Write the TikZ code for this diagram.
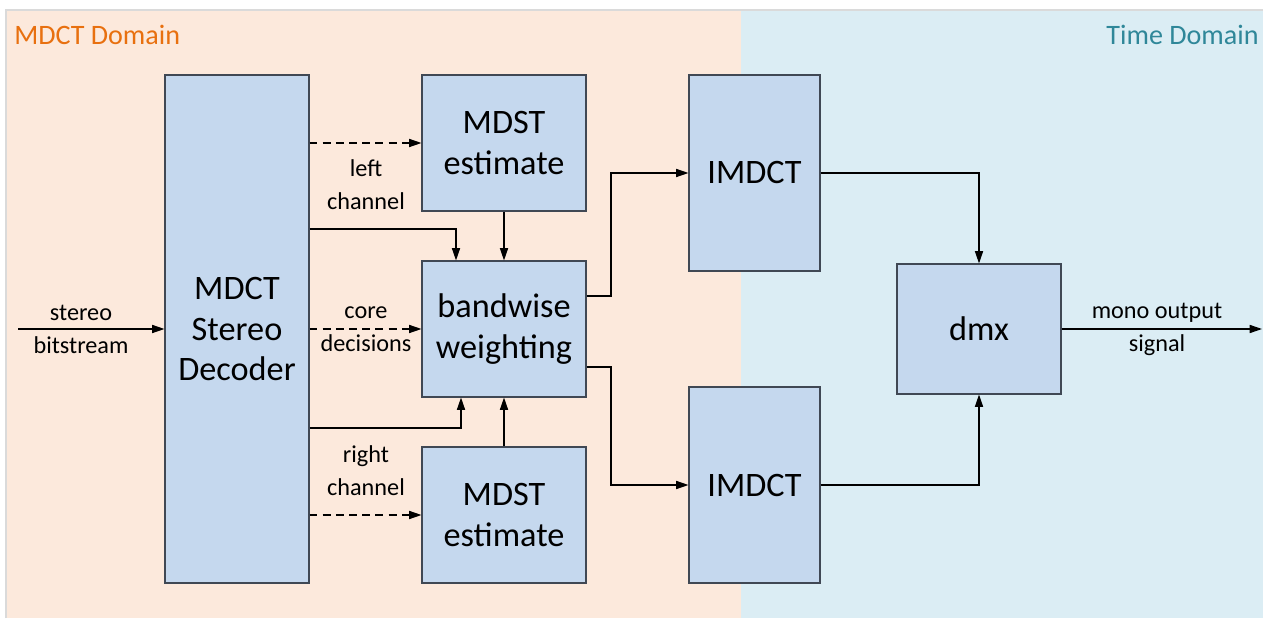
\documentclass[tikz,border=0pt]{standalone}
\usepackage{fontspec}
\setmainfont{Carlito}
\usepackage{tikz}
\usetikzlibrary{arrows.meta,positioning}
\definecolor{mdctbg}{HTML}{FCE9DC}
\definecolor{timebg}{HTML}{DBEDF4}
\definecolor{boxfill}{HTML}{C5D8EE}
\definecolor{boxline}{HTML}{404854}
\definecolor{mdcttext}{HTML}{E8700F}
\definecolor{timetext}{HTML}{2F8799}
\definecolor{framegray}{HTML}{DADADA}

\begin{document}
\begin{tikzpicture}[
    block/.style={draw=boxline, line width=0.6pt, fill=boxfill, align=center,
        font=\fontsize{19.5}{23.2}\selectfont, inner sep=0pt},
    lbl/.style={align=center, font=\fontsize{13.8}{18.7}\selectfont},
    domaintitle/.style={inner sep=0pt, font=\fontsize{16}{19}\selectfont},
    sig/.style={-{Triangle[length=7pt,width=4.6pt]}, line width=0.7pt},
    dsig/.style={sig, dash pattern=on 4.5pt off 3pt}
]
    \useasboundingbox (0,0) rectangle (25.26,12.38);

    % Domain backgrounds
    \fill[mdctbg] (0.12,0.02) rectangle (14.82,12.18);
    \fill[timebg] (14.82,0.02) rectangle (25.26,12.18);
    \draw[framegray, line width=0.8pt] (0.12,0.02) -- (0.12,12.18) -- (25.26,12.18);
    \node[domaintitle, anchor=west, mdcttext] (mdctdom) at (0.28,11.68) {MDCT Domain};
    \node[domaintitle, anchor=east, timetext] (timedom) at (25.18,11.68) {Time Domain};

    % Blocks
    \node[block, minimum width=2.88cm, minimum height=10.16cm] (dec) at (4.74,5.80) {MDCT\\Stereo\\Decoder};
    \node[block, minimum width=3.28cm, minimum height=2.72cm] (mdstl) at (10.08,9.52) {MDST\\estimate};
    \node[block, minimum width=3.28cm, minimum height=2.72cm] (bw) at (10.08,5.80) {bandwise\\weighting};
    \node[block, minimum width=3.28cm, minimum height=2.72cm] (mdstr) at (10.08,2.08) {MDST\\estimate};
    \node[block, minimum width=2.62cm, minimum height=3.92cm] (imdctl) at (15.09,8.92) {IMDCT};
    \node[block, minimum width=2.62cm, minimum height=3.92cm] (imdctr) at (15.09,2.68) {IMDCT};
    \node[block, minimum width=3.28cm, minimum height=2.60cm] (dmx) at (19.58,5.80) {dmx};

    % In and out
    \coordinate (bsin) at (0.36,5.80);
    \coordinate (monoout) at (25.24,5.80);
    \draw[sig] (bsin) -- (dec.west);
    \draw[sig] (dmx.east) -- (monoout);
    \node[lbl] (bslbl) at (1.62,5.79) {stereo\\bitstream};
    \node[lbl] (monolbl) at (23.14,5.79) {mono output\\signal};

    % Decoder to MDST estimates and weighting
    \draw[dsig] (dec.east |- mdstl) -- (mdstl.west);
    \draw[dsig] (dec.east) -- (bw.west);
    \draw[dsig] (dec.east |- mdstr) -- (mdstr.west);
    \coordinate (lsplit) at (9.12,7.80);
    \coordinate (rsplit) at (9.22,3.82);
    \draw[sig] (dec.east |- lsplit) -- (lsplit) -- (lsplit |- bw.north);
    \draw[sig] (dec.east |- rsplit) -- (rsplit) -- (rsplit |- bw.south);
    \draw[sig] (mdstl.south) -- (bw.north);
    \draw[sig] (mdstr.north) -- (bw.south);
    \node[lbl] (leftlbl) at (7.32,8.69) {left\\channel};
    \node[lbl] (corelbl) at (7.32,5.79) {core\\decisions};
    \node[lbl] (rightlbl) at (7.32,2.97) {right\\channel};

    % Weighting to IMDCT
    \coordinate (bwup) at (12.22,6.46);
    \coordinate (bwdn) at (12.22,5.04);
    \draw[sig] (bw.east |- bwup) -- (bwup) |- (imdctl.west);
    \draw[sig] (bw.east |- bwdn) -- (bwdn) |- (imdctr.west);

    % IMDCT to downmix
    \draw[sig] (imdctl.east) -| (dmx.north);
    \draw[sig] (imdctr.east) -| (dmx.south);
\end{tikzpicture}
\end{document}
